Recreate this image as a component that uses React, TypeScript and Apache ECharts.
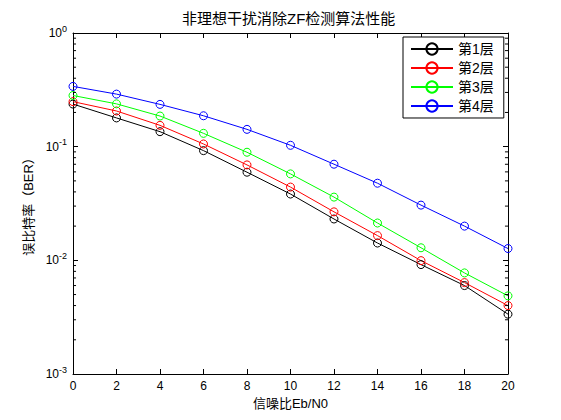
import React, { useEffect, useRef } from "react";
import * as echarts from "echarts";

const snr = [0, 2, 4, 6, 8, 10, 12, 14, 16, 18, 20];
const layer1 = [0.237, 0.179, 0.1355, 0.0923, 0.0596, 0.0383, 0.0231, 0.0142, 0.00917, 0.006, 0.00336];
const layer2 = [0.249, 0.206, 0.154, 0.1056, 0.0691, 0.0441, 0.0267, 0.0165, 0.00994, 0.00637, 0.004];
const layer3 = [0.282, 0.238, 0.186, 0.131, 0.0893, 0.0576, 0.036, 0.0213, 0.0129, 0.00775, 0.00487];
const layer4 = [0.339, 0.29, 0.2355, 0.187, 0.142, 0.1028, 0.0701, 0.0477, 0.0306, 0.02, 0.0127];
const seriesNames = ["第1层", "第2层", "第3层", "第4层"];
const seriesColors = ["#000000", "#ff0000", "#00ff00", "#0000ff"];
const minorDecades = [0.001, 0.01, 0.1];
const minorMultipliers = [2, 3, 4, 5, 6, 7, 8, 9];
const xMin = 0;
const xMax = 20;
const minorTickSpan = 0.14;

const FONT = "'Liberation Sans', Arial, 'Noto Sans CJK SC', sans-serif";

export default function App() {
  const ref = useRef<HTMLDivElement>(null);
  useEffect(() => {
    if (!ref.current) return;
    const chart = echarts.init(ref.current, undefined, { renderer: "svg" });
    const values = [layer1, layer2, layer3, layer4];
    const minorValues: number[] = [];
    minorDecades.forEach((d) => minorMultipliers.forEach((m) => minorValues.push(m * d)));

    const leftTicks: any[] = [];
    const rightTicks: any[] = [];
    minorValues.forEach((v) => {
      leftTicks.push([xMin, v], [xMin + minorTickSpan, v], [xMin, "-"]);
      rightTicks.push([xMax - minorTickSpan, v], [xMax, v], [xMax, "-"]);
    });

    const tickSeries = [leftTicks, rightTicks].map((d) => ({
      type: "line",
      data: d,
      symbol: "none",
      silent: true,
      connectNulls: false,
      lineStyle: { color: "#000", width: 1 },
      emphasis: { disabled: true },
      z: 4,
    }));

    const lineSeries = values.map((vals, i) => ({
      name: seriesNames[i],
      type: "line",
      data: snr.map((x, j) => [x, vals[j]]),
      symbol: "circle",
      symbolSize: 8,
      showAllSymbol: true,
      color: seriesColors[i],
      lineStyle: { color: seriesColors[i], width: 1 },
      itemStyle: { color: "rgba(255,255,255,0)", borderColor: seriesColors[i], borderWidth: 1 },
      emphasis: { disabled: true },
      z: 3,
    }));

    const yLabelRich = {
      b: { fontSize: 12, fontFamily: FONT, color: "#000" },
      s: { fontSize: 9, fontFamily: FONT, color: "#000", padding: [0, 0, 9, 0] },
    };

    const tick = (len: number) => ({
      show: true,
      inside: true,
      length: len,
      lineStyle: { color: "#000", width: 1 },
    });
    const line = (show: boolean) => ({ show, onZero: false, lineStyle: { color: "#000", width: 1 } });

    const logBase = {
      type: "log",
      logBase: 10,
      min: 0.001,
      max: 1,
      splitLine: { show: false },
      minorTick: { show: false },
      minorSplitLine: { show: false },
    };
    const xBase = {
      type: "value",
      min: xMin,
      max: xMax,
      interval: 2,
      splitLine: { show: false },
      minorTick: { show: false },
    };

    chart.setOption({
      animation: false,
      backgroundColor: "#ffffff",
      title: {
        text: "非理想干扰消除ZF检测算法性能",
        left: 177,
        top: 6,
        textStyle: { fontSize: 15, fontWeight: "normal", color: "#000", fontFamily: FONT },
      },
      legend: {
        orient: "vertical",
        left: 403,
        top: 37,
        padding: [5, 10, 5, 7],
        itemGap: 5,
        itemWidth: 42,
        itemHeight: 14,
        backgroundColor: "#ffffff",
        borderColor: "#000",
        borderWidth: 1,
        borderRadius: 0,
        data: seriesNames,
        textStyle: { fontSize: 14, color: "#000", fontFamily: FONT, padding: [0, 0, 0, 0] },
        selectedMode: false,
        z: 10,
      },
      grid: { left: 73, right: 53, top: 33, bottom: 46, containLabel: false },
      xAxis: [
        {
          ...xBase,
          position: "bottom",
          name: "信噪比Eb/N0",
          nameLocation: "middle",
          nameGap: 22,
          nameTextStyle: { fontSize: 13, color: "#000", fontFamily: FONT },
          axisLine: line(true),
          axisTick: tick(5),
          axisLabel: { show: true, fontSize: 12, color: "#000", fontFamily: FONT, margin: 6 },
        },
        {
          ...xBase,
          position: "top",
          axisLine: line(true),
          axisTick: tick(5),
          axisLabel: { show: false },
        },
      ],
      yAxis: [
        {
          ...logBase,
          position: "left",
          name: "误比特率（BER）",
          nameLocation: "middle",
          nameGap: 37,
          nameTextStyle: { fontSize: 13, color: "#000", fontFamily: FONT },
          axisLine: line(true),
          axisTick: tick(5),
          axisLabel: {
            show: true,
            margin: 6,
            formatter: (v: number) => {
              const e = Math.round(Math.log10(v));
              return "{b|10}{s|" + e + "}";
            },
            rich: yLabelRich,
          },
        },
        {
          ...logBase,
          position: "right",
          axisLine: line(true),
          axisTick: tick(5),
          axisLabel: { show: false },
        },
      ],
      series: [...lineSeries, ...tickSeries],
    });

    return () => chart.dispose();
  }, []);
  return <div ref={ref} style={{ position: "fixed", left: 0, top: 0, width: 561, height: 420 }} />;
}
